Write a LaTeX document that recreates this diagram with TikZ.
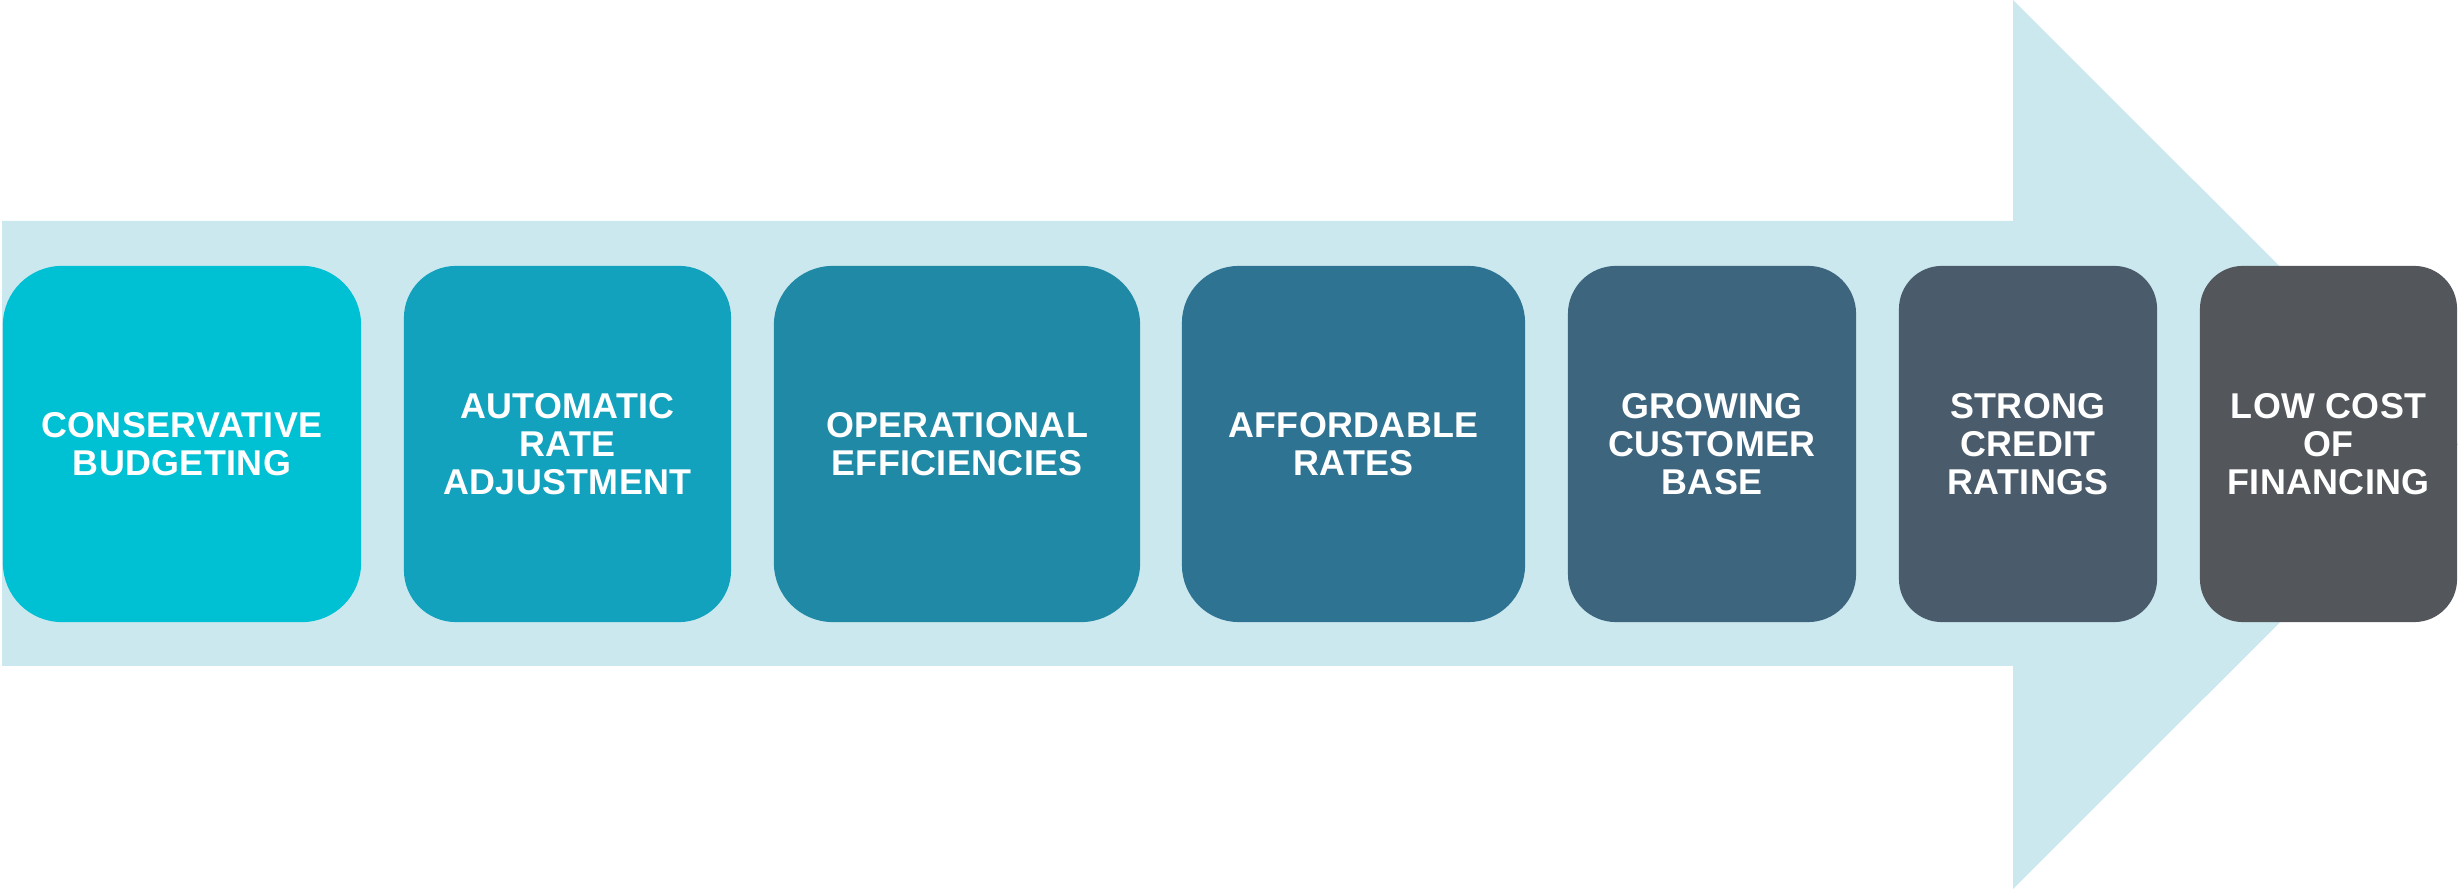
\documentclass[tikz,border=0pt]{standalone}
\usepackage{fontspec}
\setmainfont{Liberation Sans}
\usepackage{tikz}
\usetikzlibrary{positioning}
\definecolor{arrowbg}{HTML}{CCE8EF}
\definecolor{boxA}{HTML}{00C0D4}
\definecolor{boxB}{HTML}{12A2BE}
\definecolor{boxC}{HTML}{1F89A6}
\definecolor{boxD}{HTML}{2E7391}
\definecolor{boxE}{HTML}{3D657E}
\definecolor{boxF}{HTML}{4A5B6B}
\definecolor{boxG}{HTML}{53575B}
\tikzset{stepbox/.style = {rectangle,text=white,align=center,inner sep=0pt,minimum height=3.56cm,
  font=\fontsize{10.2}{10.8}\selectfont\bfseries\addfontfeature{LetterSpace=1}}}

\begin{document}
\begin{tikzpicture}[x=0.01cm,y=-0.01cm,every node/.style=stepbox]
            \useasboundingbox (0,0) rectangle (2458,889);
            \fill[arrowbg] (2,221) -- (2013,221) -- (2013,0) -- (2458,444.5) -- (2013,889) -- (2013,666) -- (2,666) -- cycle;
            \node[fill=boxA,minimum width=3.58cm,rounded corners=0.59cm] (A) at ( 182,444) {CONSERVATIVE\\BUDGETING};
            \node[fill=boxB,minimum width=3.27cm,rounded corners=0.52cm] (B) at ( 567.5,444) {AUTOMATIC\\RATE\\ADJUSTMENT};
            \node[fill=boxC,minimum width=3.66cm,rounded corners=0.59cm] (C) at ( 957,444) {OPERATIONAL\\EFFICIENCIES};
            \node[fill=boxD,minimum width=3.43cm,rounded corners=0.57cm] (D) at (1353.5,444) {AFFORDABLE\\RATES};
            \node[fill=boxE,minimum width=2.88cm,rounded corners=0.48cm] (E) at (1712,444) {GROWING\\CUSTOMER\\BASE};
            \node[fill=boxF,minimum width=2.58cm,rounded corners=0.43cm] (F) at (2028,444) {STRONG\\CREDIT\\RATINGS};
            \node[fill=boxG,minimum width=2.57cm,rounded corners=0.43cm] (G) at (2328.5,444) {LOW COST\\OF\\FINANCING};
        \end{tikzpicture}
\end{document}
